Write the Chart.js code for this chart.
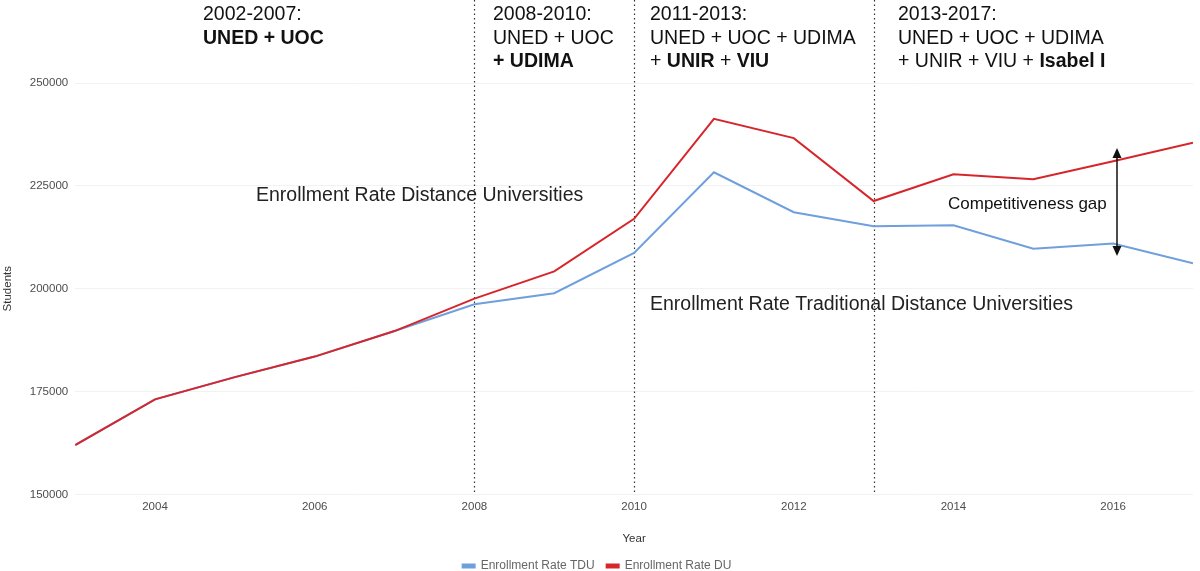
<!DOCTYPE html>
<html>
<head>
<meta charset="utf-8">
<script src="https://cdn.jsdelivr.net/npm/chart.js@4.4.0/dist/chart.umd.min.js"></script>
<style>
  html, body { margin: 0; padding: 0; background: #fff; }
  #wrap { width: 1200px; height: 571px; }
</style>
</head>
<body>
<div id="wrap"><canvas id="lineChart" width="1200" height="571"></canvas></div>
<script>
// years on the x axis
var years = [2003, 2004, 2005, 2006, 2007, 2008, 2009, 2010, 2011, 2012, 2013, 2014, 2015, 2016, 2017];
// enrollment, traditional distance universities (UNED + UOC)
var tduValues = [162000, 173100, 178500, 183500, 189700, 196200, 198900, 208700, 228300, 218600, 215200, 215400, 209700, 211000, 206200];
// enrollment, all distance universities
var duValues = [162000, 173100, 178500, 183500, 189700, 197600, 204200, 217000, 241300, 236600, 221300, 227800, 226600, 231000, 235500];
var xTicks = [2004, 2006, 2008, 2010, 2012, 2014, 2016];
var yTicks = [150000, 175000, 200000, 225000, 250000];
// period boundaries (dotted lines)
var periodLines = [2008, 2010, 2013];

var FONT = '"Liberation Sans", Arial, sans-serif';

function toPoints(vals) {
	return years.map(function(y, i) { return { x: y, y: vals[i] }; });
}

// period headers: each line is a list of [text, bold]
var periodNotes = [
	{ x: 203, lines: [[['2002-2007:', false]], [['UNED + UOC', true]]] },
	{ x: 493, lines: [[['2008-2010:', false]], [['UNED + UOC', false]], [['+ UDIMA', true]]] },
	{ x: 650, lines: [[['2011-2013:', false]], [['UNED + UOC + UDIMA', false]], [['+ ', false], ['UNIR', true], [' + ', false], ['VIU', true]]] },
	{ x: 898, lines: [[['2013-2017:', false]], [['UNED + UOC + UDIMA', false]], [['+ UNIR + VIU + ', false], ['Isabel I', true]]] }
];

var annotations = {
	id: 'annotations',
	beforeDatasetsDraw: function(chart) {
		var ctx = chart.ctx;
		var xs = chart.scales.x;
		var area = chart.chartArea;
		ctx.save();
		ctx.strokeStyle = '#333';
		ctx.lineWidth = 1.2;
		ctx.setLineDash([1.5, 3]);
		periodLines.forEach(function(yr) {
			var px = Math.round(xs.getPixelForValue(yr)) + 0.5;
			ctx.beginPath();
			ctx.moveTo(px, 0);
			ctx.lineTo(px, area.bottom);
			ctx.stroke();
		});
		ctx.restore();
	},
	afterDraw: function(chart) {
		var ctx = chart.ctx;
		ctx.save();
		ctx.fillStyle = '#111';
		ctx.textBaseline = 'middle';
		ctx.textAlign = 'left';
		periodNotes.forEach(function(n) {
			n.lines.forEach(function(parts, li) {
				var x = n.x;
				var y = 15 + li * 23.5;
				parts.forEach(function(p) {
					ctx.font = (p[1] ? 'bold ' : '') + '19.5px ' + FONT;
					ctx.fillText(p[0], x, y);
					x += ctx.measureText(p[0]).width;
				});
			});
		});
		ctx.font = '19.5px ' + FONT;
		ctx.fillStyle = '#222';
		ctx.fillText('Enrollment Rate Distance Universities', 256, 196);
		ctx.fillText('Enrollment Rate Traditional Distance Universities', 650, 305);
		ctx.fillStyle = '#111';
		ctx.font = '17px ' + FONT;
		ctx.fillText('Competitiveness gap', 948, 204);

		// double arrow for the gap
		var ax = 1117, top = 148, bot = 256;
		ctx.strokeStyle = '#111';
		ctx.lineWidth = 1.5;
		ctx.beginPath();
		ctx.moveTo(ax, top + 2);
		ctx.lineTo(ax, bot - 2);
		ctx.stroke();
		ctx.fillStyle = '#111';
		ctx.beginPath();
		ctx.moveTo(ax, top);
		ctx.lineTo(ax - 4.5, top + 10);
		ctx.lineTo(ax + 4.5, top + 10);
		ctx.closePath();
		ctx.fill();
		ctx.beginPath();
		ctx.moveTo(ax, bot);
		ctx.lineTo(ax - 4.5, bot - 10);
		ctx.lineTo(ax + 4.5, bot - 10);
		ctx.closePath();
		ctx.fill();
		ctx.restore();
	}
};

var lineChart = new Chart(document.getElementById('lineChart').getContext('2d'), {
	type: 'line',
	data: {
		datasets: [{
				label: 'Enrollment Rate TDU',
				data: toPoints(tduValues),
				borderColor: '#6f9fdc',
				backgroundColor: '#6f9fdc',
				borderWidth: 2,
				pointRadius: 0,
				tension: 0,
				order: 2
			},
			{
				label: 'Enrollment Rate DU',
				data: toPoints(duValues),
				borderColor: '#d7262b',
				backgroundColor: '#d7262b',
				borderWidth: 2,
				pointRadius: 0,
				tension: 0,
				order: 1
			}
		]
	},
	options: {
		responsive: false,
		animation: false,
		devicePixelRatio: 1,
		layout: { padding: { top: 83, right: 7, left: 1, bottom: -11 } },
		plugins: {
			tooltip: { enabled: false },
			legend: {
				position: 'bottom',
				labels: {
					boxWidth: 12,
					boxHeight: 3,
					padding: 12,
					color: '#666',
					font: { family: FONT, size: 12 },
					sort: function(a, b) { return a.datasetIndex - b.datasetIndex; }
				}
			}
		},
		scales: {
			x: {
				type: 'linear',
				min: 2003,
				max: 2017,
				afterBuildTicks: function(axis) {
					axis.ticks = xTicks.map(function(v) { return { value: v }; });
				},
				grid: { display: false, drawTicks: false },
				border: { display: false },
				ticks: {
					color: '#4d4d4d',
					font: { family: FONT, size: 11.5 },
					padding: 6,
					maxRotation: 0,
					callback: function(v) { return String(v); }
				},
				title: {
					display: true,
					text: 'Year',
					color: '#333',
					font: { family: FONT, size: 11.5 },
					padding: { top: 12, bottom: 2 }
				}
			},
			y: {
				min: 150000,
				max: 250000,
				afterBuildTicks: function(axis) {
					axis.ticks = yTicks.map(function(v) { return { value: v }; });
				},
				grid: { color: '#f2f2f2', drawTicks: false },
				border: { display: false },
				ticks: {
					color: '#4d4d4d',
					font: { family: FONT, size: 11.5 },
					padding: 7,
					callback: function(v) { return String(v); }
				},
				title: {
					display: true,
					text: 'Students',
					color: '#333',
					font: { family: FONT, size: 11.5 },
					padding: { top: 0, bottom: 8 }
				}
			}
		}
	},
	plugins: [annotations]
});
</script>
</body>
</html>
